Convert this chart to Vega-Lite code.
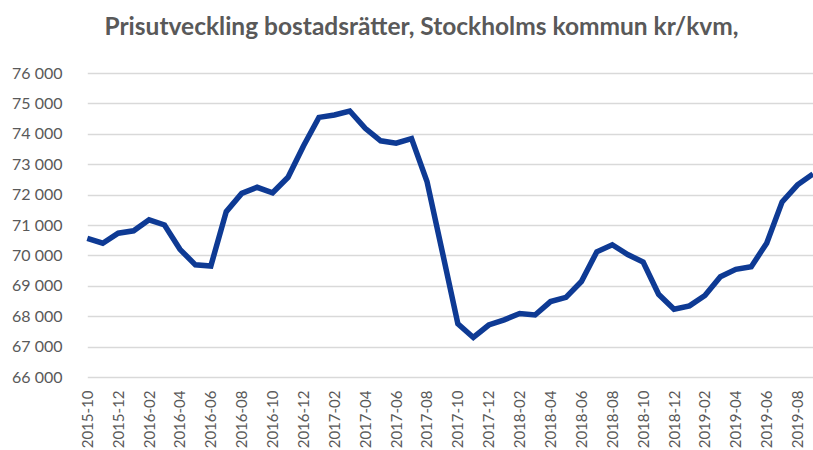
{
  "$schema": "https://vega.github.io/schema/vega-lite/v6.json",
  "width": 733,
  "height": 304,
  "autosize": {"type": "none"},
  "padding": {"left": 80, "top": 73, "right": 0, "bottom": 73},
  "background": "white",
  "title": {
    "text": "Prisutveckling bostadsrätter, Stockholms kommun kr/kvm,",
    "font": "Lato",
    "fontSize": 24.5,
    "fontWeight": "bold",
    "color": "#595959",
    "anchor": "middle",
    "dx": -25,
    "offset": 25
  },
  "data": {
    "values": [
      {"month": "2015-10", "value": 70560},
      {"month": "2015-11", "value": 70400},
      {"month": "2015-12", "value": 70730},
      {"month": "2016-01", "value": 70810},
      {"month": "2016-02", "value": 71170},
      {"month": "2016-03", "value": 71000},
      {"month": "2016-04", "value": 70200},
      {"month": "2016-05", "value": 69690},
      {"month": "2016-06", "value": 69650},
      {"month": "2016-07", "value": 71440},
      {"month": "2016-08", "value": 72040},
      {"month": "2016-09", "value": 72240},
      {"month": "2016-10", "value": 72060},
      {"month": "2016-11", "value": 72570},
      {"month": "2016-12", "value": 73600},
      {"month": "2017-01", "value": 74540},
      {"month": "2017-02", "value": 74620},
      {"month": "2017-03", "value": 74750},
      {"month": "2017-04", "value": 74180},
      {"month": "2017-05", "value": 73770},
      {"month": "2017-06", "value": 73690},
      {"month": "2017-07", "value": 73840},
      {"month": "2017-08", "value": 72430},
      {"month": "2017-09", "value": 70100},
      {"month": "2017-10", "value": 67750},
      {"month": "2017-11", "value": 67300},
      {"month": "2017-12", "value": 67710},
      {"month": "2018-01", "value": 67880},
      {"month": "2018-02", "value": 68090},
      {"month": "2018-03", "value": 68040},
      {"month": "2018-04", "value": 68480},
      {"month": "2018-05", "value": 68620},
      {"month": "2018-06", "value": 69140},
      {"month": "2018-07", "value": 70120},
      {"month": "2018-08", "value": 70350},
      {"month": "2018-09", "value": 70030},
      {"month": "2018-10", "value": 69780},
      {"month": "2018-11", "value": 68720},
      {"month": "2018-12", "value": 68230},
      {"month": "2019-01", "value": 68340},
      {"month": "2019-02", "value": 68680},
      {"month": "2019-03", "value": 69300},
      {"month": "2019-04", "value": 69540},
      {"month": "2019-05", "value": 69630},
      {"month": "2019-06", "value": 70400},
      {"month": "2019-07", "value": 71760},
      {"month": "2019-08", "value": 72320},
      {"month": "2019-09", "value": 72680}
    ]
  },
  "mark": {"type": "line", "color": "#0E3A94", "strokeWidth": 5.5, "strokeJoin": "miter", "clip": false},
  "encoding": {
    "x": {
      "field": "month",
      "type": "ordinal",
      "sort": null,
      "scale": {"type": "point", "range": [7.3, 733], "padding": 0},
      "axis": {
        "title": null,
        "values": ["2015-10","2015-12","2016-02","2016-04","2016-06","2016-08","2016-10","2016-12","2017-02","2017-04","2017-06","2017-08","2017-10","2017-12","2018-02","2018-04","2018-06","2018-08","2018-10","2018-12","2019-02","2019-04","2019-06","2019-08"],
        "labelAngle": -90,
        "labelAlign": "right",
        "labelBaseline": "middle",
        "labelFont": "Lato",
        "labelFontSize": 15,
        "labelColor": "#595959",
        "labelPadding": 13,
        "ticks": false,
        "tickSize": 0,
        "domain": false,
        "grid": false,
        "labelOverlap": false
      }
    },
    "y": {
      "field": "value",
      "type": "quantitative",
      "scale": {"domain": [66000, 76000], "nice": false, "zero": false},
      "axis": {
        "title": null,
        "values": [66000, 67000, 68000, 69000, 70000, 71000, 72000, 73000, 74000, 75000, 76000],
        "labelExpr": "replace(format(datum.value, ','), ',', ' ')",
        "labelFont": "Lato",
        "labelFontSize": 16,
        "labelColor": "#595959",
        "labelPadding": 18,
        "ticks": false,
        "tickSize": 0,
        "domain": false,
        "grid": true,
        "gridColor": "#d9d9d9",
        "gridWidth": 1.5
      }
    }
  },
  "config": {"view": {"stroke": null}}
}
